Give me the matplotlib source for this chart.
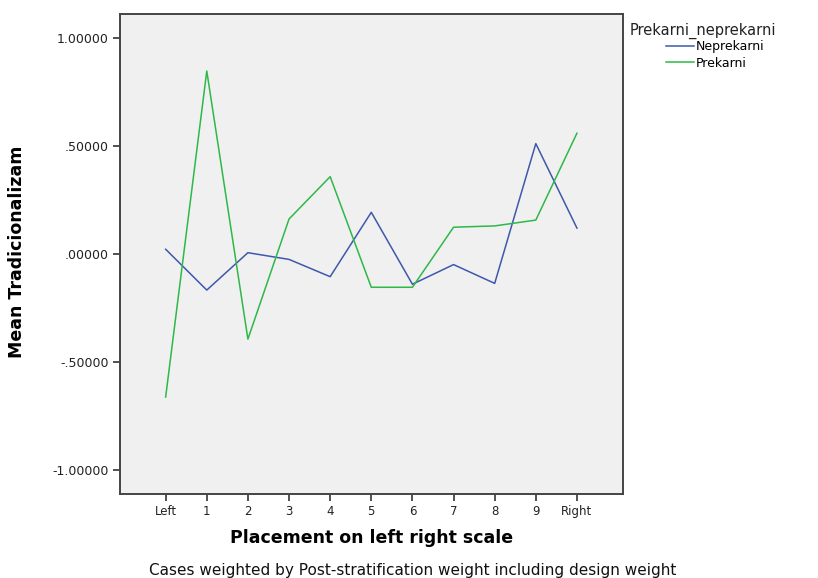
import matplotlib
matplotlib.use('Agg')
import matplotlib.pyplot as plt
import numpy as np

# data
categories = ['Left', '1', '2', '3', '4', '5', '6', '7', '8', '9', 'Right']
neprekarni = [0.022, -0.167, 0.006, -0.025, -0.105, 0.193, -0.14, -0.049, -0.136, 0.511, 0.12]
prekarni = [-0.662, 0.847, -0.394, 0.162, 0.358, -0.154, -0.154, 0.124, 0.13, 0.157, 0.559]
y_ticks = [1.0, 0.5, 0.0, -0.5, -1.0]
y_labels = ['1.00000', '.50000', '.00000', '-.50000', '-1.00000']

fig = plt.figure(figsize=(8.18, 5.78), dpi=100)
ax = fig.add_axes([120 / 818, 1 - 494 / 578, 503 / 818, 480 / 578])
ax.set_facecolor('#f0f0f0')

x = np.arange(len(categories))
ax.plot(x, neprekarni, color='#3e58ac', lw=1.1, label='Neprekarni')
ax.plot(x, prekarni, color='#2eb848', lw=1.1, label='Prekarni')

ax.set_xlim(-1.11, 11.12)
ax.set_ylim(-1.111, 1.111)
ax.set_xticks(x)
ax.set_xticklabels(categories, fontsize=8.5, color='#222222')
ax.set_yticks(y_ticks)
ax.set_yticklabels(y_labels, fontsize=9, color='#222222')
ax.tick_params(direction='out', length=5, width=1.2, color='#333333', pad=3)

for s in ax.spines.values():
    s.set_linewidth(1.4)
    s.set_color('#444444')

ax.set_xlabel('Placement on left right scale', fontsize=12.5, fontweight='bold')
ax.xaxis.set_label_coords(0.5, -0.073)
ax.set_ylabel('Mean Tradicionalizam', fontsize=12.5, fontweight='bold')
ax.yaxis.set_label_coords(-0.187, 0.504)

# legend: title and entries placed like the reference
fig.text(630 / 818, 1 - 31 / 578, 'Prekarni_neprekarni', ha='left', va='center',
         fontsize=10.5, color='#222222')
fig.legend(loc='upper left', bbox_to_anchor=(666 / 818, 1 - 40 / 578), frameon=False,
           fontsize=9, handlelength=2.2, handletextpad=0.2, labelspacing=0.3,
           borderaxespad=0, borderpad=0)

fig.text(413 / 818, 1 - 570 / 578, 'Cases weighted by Post-stratification weight including design weight',
         ha='center', va='center', fontsize=11, color='#111111')

fig.savefig('out.png', dpi=100)
